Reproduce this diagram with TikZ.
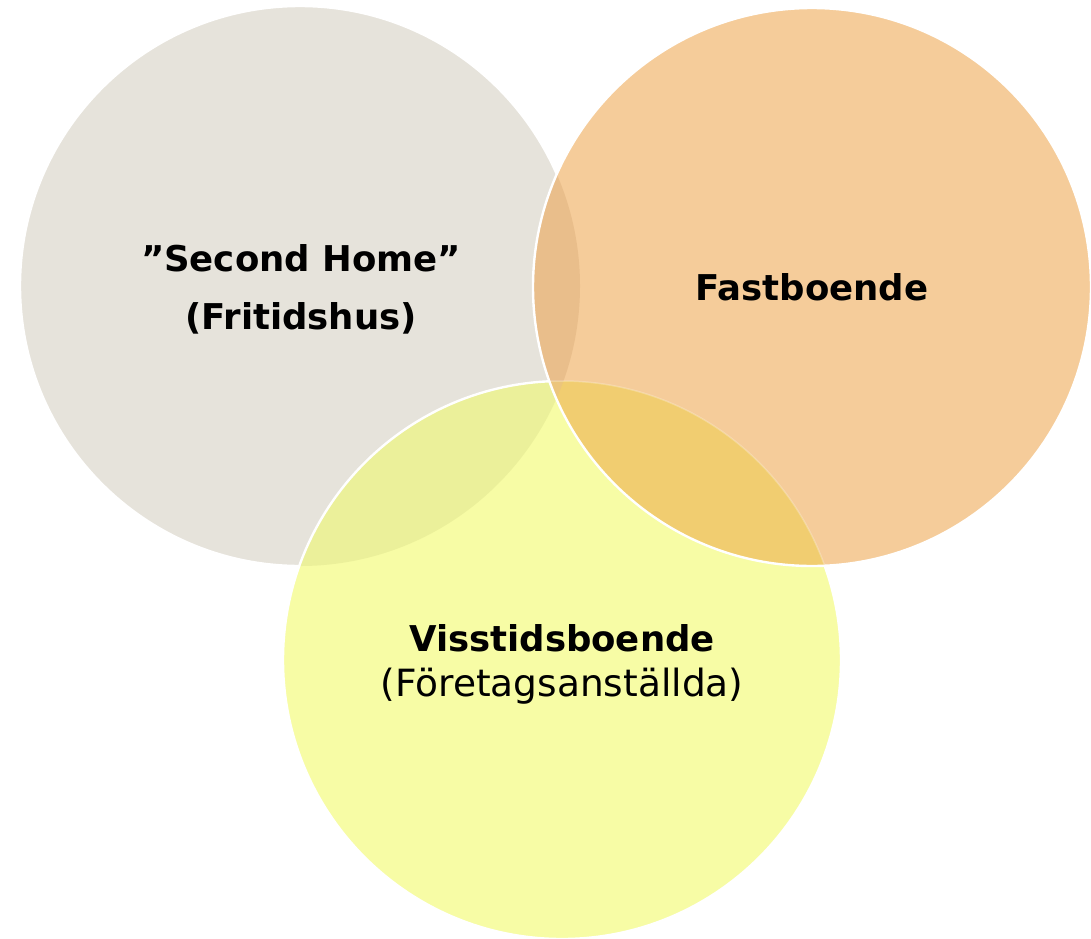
\documentclass[tikz,border=0pt]{standalone}
\usepackage{fontspec}
\setmainfont{DejaVu Sans}
\definecolor{cgray}{HTML}{E6E3DB}
\definecolor{corange}{HTML}{F5CC9A}
\definecolor{cyellow}{HTML}{F7FCA5}
\definecolor{cgy}{HTML}{EBF09A}
\definecolor{cgo}{HTML}{E9BE8B}
\definecolor{coy}{HTML}{F1CD70}
\definecolor{cgoy}{HTML}{ECC57C}
\begin{document}
\begin{tikzpicture}[x=1pt,y=-1pt,
  rim/.style={draw=white,line width=2.4pt},
  lbl/.style={font=\fontsize{35.5}{42}\selectfont\bfseries,text=black,align=center},
  sub/.style={font=\fontsize{37.5}{44}\selectfont,text=black,align=center}]
\useasboundingbox (0,0) rectangle (1091,938);
\coordinate (cg) at (300,286);
\coordinate (co) at (812,287);
\coordinate (cy) at (562,660);
% gray circle
\fill[cgray] (cg) circle[radius=280];
\draw[rim] (cg) circle[radius=280];
% yellow circle
\fill[cyellow] (cy) circle[radius=279];
\begin{scope}
  \clip (cg) circle[radius=280];
  \fill[cgy] (cy) circle[radius=279];
\end{scope}
\draw[rim] (cy) circle[radius=279];
% orange circle
\fill[corange] (co) circle[radius=279];
\begin{scope}
  \clip (co) circle[radius=279];
  \fill[cgo] (cg) circle[radius=280];
  \fill[coy] (cy) circle[radius=279];
  \begin{scope}
    \clip (cg) circle[radius=280];
    \fill[cgoy] (cy) circle[radius=279];
  \end{scope}
  \draw[draw=white,line width=1.5pt,opacity=0.25] (cy) circle[radius=279];
\end{scope}
\draw[rim] (co) circle[radius=279];
% labels
\node[lbl] (sh) at (301,258) {”Second Home”};
\node[lbl] (fr) at (301,318) {(Fritidshus)};
\node[lbl] (fb) at (812,287) {Fastboende};
\node[lbl] (vb) at (562,638) {Visstidsboende};
\node[sub] (fa) at (562,686) {(Företagsanställda)};
\end{tikzpicture}
\end{document}
